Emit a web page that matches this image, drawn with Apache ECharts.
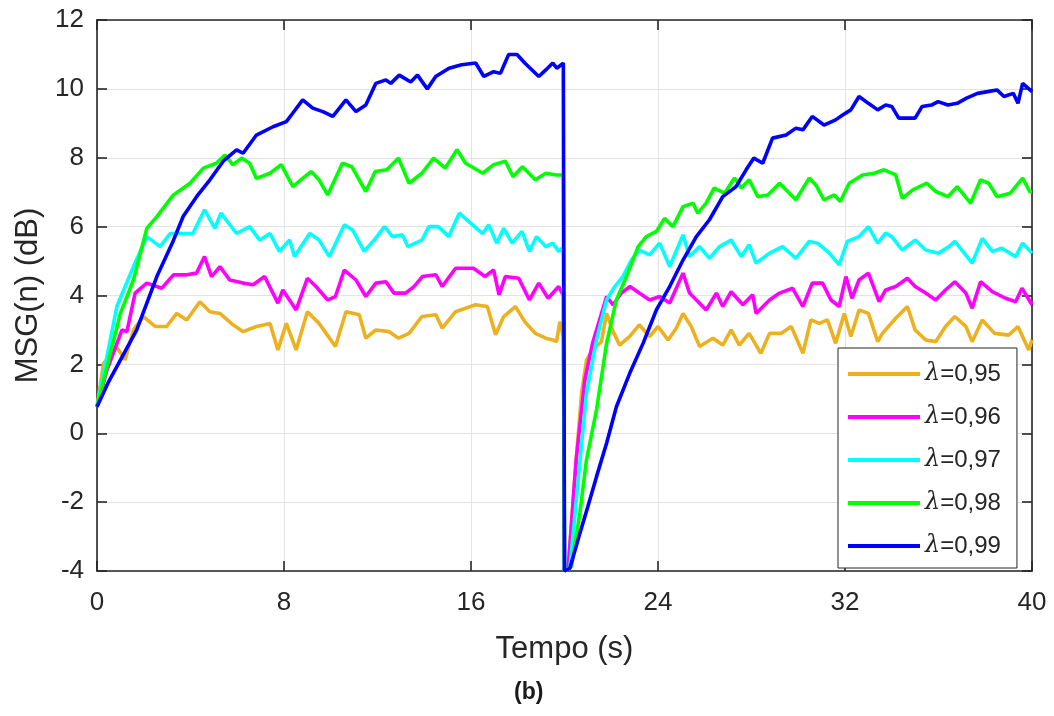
<!DOCTYPE html>
<html>
<head>
<meta charset="utf-8">
<script src="https://cdn.jsdelivr.net/npm/echarts@6/dist/echarts.min.js"></script>
<style>html,body{margin:0;padding:0;background:#fff;}#c{width:1054px;height:716px;}</style>
</head>
<body>
<div id="c"></div>
<script>
const xTicks = [0, 8, 16, 24, 32, 40];
const yTicks = [-4, -2, 0, 2, 4, 6, 8, 10, 12];
const seriesNames = ['λ=0,95', 'λ=0,96', 'λ=0,97', 'λ=0,98', 'λ=0,99'];
const seriesColors = ['#EDB120', '#FF00FF', '#00FFFF', '#00FF00', '#0000FF'];

const s95 = [[0,0.77],[0.28,2.03],[0.85,2.5],[1.2,2.13],[1.56,3.0],[1.99,3.39],[2.49,3.1],[2.98,3.1],[3.41,3.48],[3.84,3.29],[4.4,3.82],[4.83,3.53],[5.26,3.48],[5.82,3.15],[6.25,2.95],[6.82,3.1],[7.4,3.19],[7.74,2.42],[8.1,3.19],[8.52,2.42],[9.0,3.53],[9.5,3.19],[10.2,2.52],[10.65,3.53],[11.22,3.44],[11.5,2.76],[11.93,3.0],[12.5,2.95],[12.9,2.76],[13.35,2.9],[13.9,3.39],[14.5,3.44],[14.77,3.05],[15.34,3.53],[15.77,3.63],[16.2,3.73],[16.7,3.68],[17.05,2.86],[17.4,3.39],[17.9,3.68],[18.3,3.24],[18.75,2.9],[19.2,2.76],[19.5,2.71],[19.66,2.66],[19.8,3.24],[19.95,2.8],[20.0,-4],[20.16,-3.87],[20.44,-1.26],[20.73,1.16],[20.94,2.13],[21.2,2.42],[21.58,2.66],[21.8,3.48],[22.08,2.95],[22.36,2.56],[22.79,2.81],[23.2,3.15],[23.64,2.81],[24.0,3.1],[24.43,2.71],[24.78,3.05],[25.07,3.48],[25.42,3.1],[25.78,2.52],[26.35,2.76],[26.77,2.56],[27.13,3.0],[27.48,2.56],[27.9,2.9],[28.4,2.32],[28.77,2.9],[29.26,2.9],[29.7,3.1],[30.2,2.32],[30.54,3.29],[30.9,3.19],[31.25,3.29],[31.6,2.61],[31.97,3.48],[32.25,2.81],[32.6,3.58],[33.0,3.48],[33.4,2.66],[33.6,2.9],[34.17,3.34],[34.67,3.68],[35.0,3.0],[35.45,2.71],[35.88,2.66],[36.3,3.1],[36.7,3.39],[37.17,3.1],[37.44,2.66],[37.87,3.29],[38.4,2.9],[39.0,2.85],[39.4,3.1],[39.86,2.42],[40,2.71]];

const s96 = [[0,0.77],[0.43,1.84],[1.07,3.0],[1.28,2.95],[1.63,4.07],[2.13,4.36],[2.77,4.21],[3.27,4.6],[3.84,4.6],[4.26,4.65],[4.6,5.13],[4.9,4.55],[5.26,4.84],[5.68,4.45],[6.25,4.36],[6.68,4.31],[7.17,4.55],[7.74,3.78],[7.95,4.16],[8.52,3.58],[9.0,4.5],[9.37,4.26],[9.87,3.87],[10.2,3.97],[10.58,4.74],[11.08,4.45],[11.5,3.97],[11.93,4.36],[12.36,4.4],[12.7,4.07],[13.2,4.07],[13.56,4.26],[13.92,4.55],[14.5,4.6],[14.77,4.26],[15.34,4.79],[15.77,4.79],[16.1,4.79],[16.6,4.55],[16.97,4.74],[17.2,4.02],[17.47,4.55],[18.04,4.5],[18.5,3.87],[18.9,4.36],[19.3,3.92],[19.75,4.26],[19.95,4.0],[20.0,-4],[20.16,-3.92],[20.5,-0.77],[20.87,1.55],[21.2,2.61],[21.5,3.29],[21.8,3.97],[22.08,3.73],[22.43,4.07],[22.8,4.26],[23.2,4.07],[23.64,3.87],[24.07,3.97],[24.5,3.78],[25.07,4.65],[25.35,4.07],[26.06,3.58],[26.5,4.07],[26.77,3.68],[27.13,4.11],[27.63,3.73],[28.05,4.02],[28.2,3.48],[28.77,3.87],[29.2,4.07],[29.76,4.21],[30.2,3.68],[30.6,4.36],[31.04,4.36],[31.4,3.87],[31.75,3.68],[32.04,4.55],[32.3,3.92],[32.6,4.45],[33.0,4.65],[33.46,3.82],[33.74,4.16],[34.17,4.26],[34.67,4.5],[35.0,4.26],[35.45,4.07],[35.88,3.87],[36.3,4.16],[36.7,4.4],[37.17,4.07],[37.44,3.63],[37.8,4.4],[38.3,4.11],[38.87,3.92],[39.3,3.82],[39.57,4.21],[40,3.73]];

const s97 = [[0,0.77],[0.85,3.68],[1.56,4.84],[2.13,5.71],[2.7,5.42],[3.13,5.8],[3.84,5.8],[4.1,5.8],[4.6,6.49],[5.04,5.95],[5.3,6.39],[5.97,5.8],[6.53,6.0],[6.96,5.61],[7.4,5.8],[7.8,5.28],[8.24,5.61],[8.45,5.13],[9.1,5.8],[9.5,5.61],[9.94,5.13],[10.58,6.05],[10.94,5.9],[11.43,5.28],[11.86,5.61],[12.3,6.0],[12.64,5.71],[13.07,5.76],[13.3,5.42],[13.9,5.61],[14.2,6.0],[14.6,6.0],[15.05,5.71],[15.5,6.39],[15.98,6.1],[16.5,5.8],[16.76,6.05],[17.1,5.52],[17.4,5.95],[17.76,5.52],[18.18,5.86],[18.5,5.28],[18.8,5.71],[19.2,5.42],[19.5,5.52],[19.75,5.28],[19.95,5.4],[20.0,-4],[20.23,-3.92],[20.6,-1.26],[20.94,1.16],[21.37,2.71],[21.8,3.87],[22.15,4.26],[22.5,4.55],[22.86,5.03],[23.2,5.32],[23.64,5.18],[24.07,5.52],[24.5,4.84],[25.07,5.76],[25.35,5.13],[25.78,5.42],[26.2,5.08],[26.63,5.42],[27.13,5.61],[27.56,5.13],[27.9,5.47],[28.2,4.94],[28.77,5.23],[29.33,5.42],[29.9,5.08],[30.47,5.57],[30.83,5.52],[31.33,5.23],[31.75,4.89],[32.1,5.57],[32.6,5.71],[33.0,6.0],[33.4,5.52],[33.74,5.81],[34.0,5.71],[34.45,5.32],[35.0,5.61],[35.45,5.32],[36.0,5.23],[36.45,5.42],[36.7,5.57],[37.44,4.94],[37.87,5.66],[38.3,5.28],[38.7,5.37],[39.3,5.13],[39.6,5.52],[40,5.23]];

const s98 = [[0,0.77],[1.0,3.48],[1.56,4.45],[2.13,5.95],[2.56,6.29],[3.27,6.92],[3.98,7.26],[4.55,7.7],[5.1,7.84],[5.47,8.08],[5.82,7.79],[6.18,7.99],[6.53,7.84],[6.82,7.4],[7.4,7.55],[7.88,7.8],[8.38,7.16],[8.8,7.4],[9.16,7.6],[9.5,7.36],[9.87,6.92],[10.5,7.84],[10.9,7.74],[11.5,7.02],[11.9,7.6],[12.4,7.65],[12.9,7.99],[13.35,7.26],[13.9,7.55],[14.4,7.99],[14.9,7.7],[15.4,8.23],[15.77,7.84],[16.5,7.55],[16.97,7.8],[17.47,7.9],[17.8,7.45],[18.2,7.74],[18.75,7.36],[19.2,7.55],[19.66,7.5],[19.95,7.5],[20.0,-4],[20.3,-3.87],[20.66,-2.3],[20.94,-0.77],[21.37,0.68],[21.8,2.61],[22.22,3.87],[22.65,4.55],[23.15,5.42],[23.5,5.71],[23.93,5.86],[24.28,6.24],[24.64,6.0],[25.07,6.58],[25.5,6.68],[25.7,6.39],[26.06,6.68],[26.4,7.12],[26.85,6.97],[27.27,7.41],[27.56,7.12],[27.9,7.36],[28.27,6.87],[28.7,6.92],[29.2,7.26],[29.55,7.02],[29.9,6.78],[30.47,7.41],[30.75,7.21],[31.1,6.78],[31.54,6.92],[31.8,6.73],[32.18,7.26],[32.75,7.5],[33.25,7.55],[33.67,7.65],[34.17,7.5],[34.45,6.82],[34.9,7.07],[35.5,7.26],[35.88,7.02],[36.4,6.87],[36.8,7.16],[37.37,6.68],[37.8,7.36],[38.15,7.26],[38.5,6.87],[39.07,6.97],[39.6,7.41],[39.9,7.02],[40,7.0]];

const s99 = [[0,0.77],[0.5,1.5],[1.14,2.3],[1.7,3.0],[2.56,4.55],[3.27,5.6],[3.69,6.3],[4.26,6.87],[4.83,7.36],[5.4,7.9],[5.97,8.23],[6.25,8.13],[6.82,8.66],[7.53,8.9],[8.1,9.05],[8.38,9.3],[8.8,9.68],[9.23,9.44],[9.66,9.34],[10.09,9.2],[10.65,9.68],[11.08,9.34],[11.5,9.53],[11.93,10.16],[12.36,10.26],[12.57,10.16],[12.93,10.4],[13.42,10.2],[13.71,10.4],[14.13,10.0],[14.49,10.36],[15.06,10.6],[15.6,10.7],[16.2,10.75],[16.55,10.36],[16.97,10.5],[17.26,10.45],[17.61,11.0],[17.97,11.0],[18.3,10.75],[18.9,10.36],[19.2,10.55],[19.5,10.75],[19.67,10.6],[19.95,10.75],[20.0,-4],[20.23,-3.92],[20.66,-2.9],[21.0,-2.13],[21.37,-1.26],[21.8,-0.29],[22.22,0.77],[22.79,1.74],[23.36,2.61],[23.93,3.58],[24.5,4.26],[25.07,5.03],[25.64,5.71],[26.2,6.2],[26.77,6.87],[27.34,7.16],[27.77,7.65],[28.1,7.99],[28.48,7.84],[28.9,8.57],[29.48,8.66],[29.9,8.86],[30.2,8.81],[30.6,9.2],[31.1,8.95],[31.6,9.1],[31.9,9.24],[32.25,9.39],[32.6,9.78],[33.0,9.58],[33.4,9.39],[33.74,9.53],[34.0,9.49],[34.3,9.15],[34.6,9.15],[35.0,9.15],[35.3,9.49],[35.7,9.53],[35.98,9.63],[36.4,9.53],[36.8,9.58],[37.2,9.73],[37.67,9.87],[38.1,9.92],[38.5,9.97],[38.8,9.78],[39.2,9.87],[39.4,9.58],[39.6,10.16],[40,9.92]];

const allData = [s95, s96, s97, s98, s99];

const FONT = '"Liberation Sans", Arial, Helvetica, sans-serif';
const AX = '#262626';

const chart = echarts.init(document.getElementById('c'), null, {renderer: 'canvas'});

function xAxisCfg(pos, showLabels) {
  return {
    type: 'value', min: xTicks[0], max: xTicks[xTicks.length - 1], interval: xTicks[1] - xTicks[0],
    position: pos,
    name: showLabels ? 'Tempo (s)' : '', nameLocation: 'middle', nameGap: 63,
    nameTextStyle: {fontFamily: FONT, fontSize: 31, color: AX},
    axisLine: {show: true, onZero: false, lineStyle: {color: AX, width: 1.6}},
    axisTick: {show: true, inside: true, length: 10, lineStyle: {color: AX, width: 1.6}},
    axisLabel: {show: showLabels, fontFamily: FONT, fontSize: 26, color: AX, margin: 19},
    splitLine: {show: showLabels, lineStyle: {color: '#e3e3e3', width: 1}}
  };
}
function yAxisCfg(pos, showLabels) {
  return {
    type: 'value', min: yTicks[0], max: yTicks[yTicks.length - 1], interval: yTicks[1] - yTicks[0],
    position: pos,
    name: showLabels ? 'MSG(n) (dB)' : '', nameLocation: 'middle', nameGap: 52,
    nameTextStyle: {fontFamily: FONT, fontSize: 31, color: AX},
    axisLine: {show: true, onZero: false, lineStyle: {color: AX, width: 1.6}},
    axisTick: {show: true, inside: true, length: 10, lineStyle: {color: AX, width: 1.6}},
    axisLabel: {show: showLabels, fontFamily: FONT, fontSize: 26, color: AX, margin: 13},
    splitLine: {show: showLabels, lineStyle: {color: '#e3e3e3', width: 1}}
  };
}

const series = allData.map((d, i) => ({
  name: seriesNames[i],
  type: 'line',
  data: d,
  showSymbol: false,
  symbol: 'none',
  clip: true,
  lineStyle: {color: seriesColors[i], width: 3.6},
  itemStyle: {color: seriesColors[i]},
  z: 2 + i
}));

chart.setOption({
  animation: false,
  backgroundColor: '#ffffff',
  grid: {left: 97, right: 22, top: 20, bottom: 145, containLabel: false},
  xAxis: [xAxisCfg('bottom', true), xAxisCfg('top', false)],
  yAxis: [yAxisCfg('left', true), yAxisCfg('right', false)],
  legend: {
    show: true,
    orient: 'vertical',
    left: 838, top: 348,
    padding: [13, 16, 9, 10],
    itemWidth: 72, itemHeight: 4, itemGap: 17,
    icon: 'rect',
    backgroundColor: '#ffffff',
    borderColor: '#262626', borderWidth: 1,
    data: seriesNames,
    formatter: function (n) { return '{l|λ}' + n.slice(1); },
    textStyle: {
      fontFamily: FONT, fontSize: 24, color: AX, lineHeight: 26,
      rich: {l: {fontFamily: '"DejaVu Serif", serif', fontStyle: 'italic', fontSize: 24, color: AX}}
    }
  },
  graphic: [{
    type: 'text', left: 514, top: 681,
    style: {text: '(b)', font: 'bold 23px ' + FONT, fill: '#1a1a1a'}
  }],
  series: series
});
</script>
</body>
</html>
